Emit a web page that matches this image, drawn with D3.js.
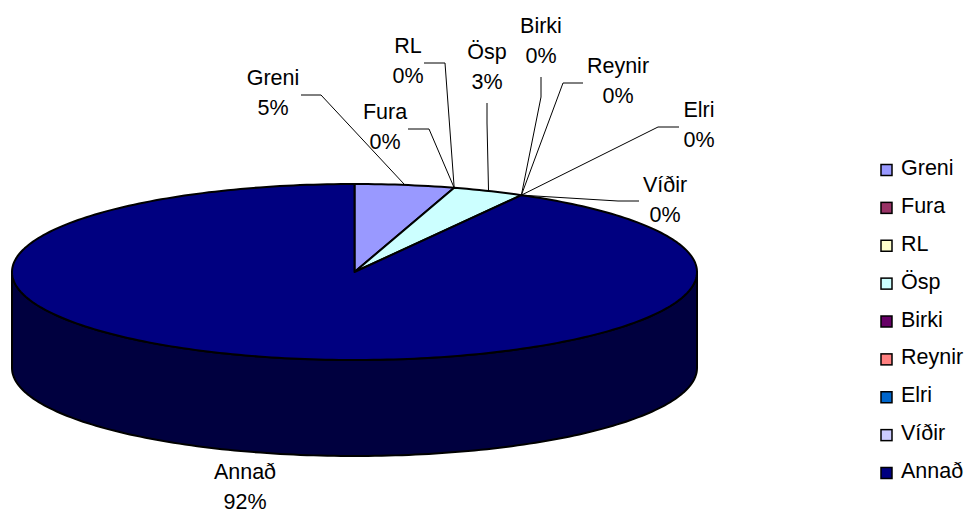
<!DOCTYPE html>
<html>
<head>
    <meta charset="utf-8">
    <script src="https://cdn.jsdelivr.net/npm/d3@7/dist/d3.min.js"></script>
    <style>
        html, body { margin: 0; padding: 0; background: #fff; }
        svg { display: block; }
        text { font-family: "Liberation Sans", Arial, sans-serif; font-size: 21.5px; fill: #000; }
    </style>
</head>
<body>
    <div id="chart"></div>
    <script>
        var categories = ["Greni", "Fura", "RL", "Ösp", "Birki", "Reynir", "Elri", "Víðir", "Annað"];
        var shares = [4.7, 0, 0, 3.4, 0, 0, 0, 0, 91.9];
        var colors = ["#9999ff", "#993366", "#ffffcc", "#ccffff", "#660066", "#ff8080", "#0066cc", "#ccccff", "#000080"];
        var sideColors = ["#4c4c80", "#4c1933", "#808066", "#668080", "#330033", "#804040", "#003366", "#666680", "#00003f"];

        // label centre + first baseline + leader start and bend
        var labelX = [273, 385, 408, 487, 541, 618, 699, 665, 245];
        var labelY = [85, 119, 53, 59, 33, 73, 117, 192, 479];
        var leaderStart = [[301, 95], [408, 129], [424, 63], [487, 103], [541, 77], [583, 83], [679, 127], [639, 201], null];
        var bends = [[321, 95], [429, 129], [445, 63], [487, 123], [541, 97], [563, 83], [658, 127], [618, 201], null];

        var width = 968, height = 514;
        var depth = 96;

        var x = d3.scaleLinear().domain([-1, 1]).range([12, 697]);
        var y = d3.scaleLinear().domain([-1, 1]).range([184, 360]);

        var svg = d3.select("#chart").append("svg").attr("width", width).attr("height", height);

        var data = categories.map(function(c, i) {
            return { name: c, value: shares[i], color: colors[i], side: sideColors[i], i: i };
        });

        var pie = d3.pie().sort(null).value(function(d) { return d.value; });
        var slices = pie(data);

        function px(a) { return x(Math.sin(a)); }
        function py(a) { return y(-Math.cos(a)); }

        var line = d3.line();

        function rimPoints(a0, a1, dy) {
            var steps = Math.max(1, Math.ceil((a1 - a0) / 0.02));
            return d3.range(steps + 1).map(function(k) {
                var a = a0 + (a1 - a0) * k / steps;
                return [px(a), py(a) + dy];
            });
        }

        // side wall, only the front half of the rim shows
        var sides = svg.append("g");
        slices.forEach(function(s) {
            var a0 = Math.max(s.startAngle, Math.PI / 2);
            var a1 = Math.min(s.endAngle, Math.PI * 1.5);
            if (a1 <= a0) return;
            var pts = rimPoints(a0, a1, 0).concat(rimPoints(a0, a1, depth).reverse());
            sides.append("path")
                .attr("d", line(pts) + "Z")
                .attr("fill", s.data.side)
                .attr("stroke", "#000")
                .attr("stroke-width", 2)
                .attr("stroke-linejoin", "round");
        });

        var tops = svg.append("g");
        slices.forEach(function(s) {
            if (s.value === 0) return;
            var pts = [[x(0), y(0)]].concat(rimPoints(s.startAngle, s.endAngle, 0));
            tops.append("path")
                .attr("d", line(pts) + "Z")
                .attr("fill", s.data.color)
                .attr("stroke", "#000")
                .attr("stroke-width", 2)
                .attr("stroke-linejoin", "round");
        });

        // leaders end at the middle of each slice's rim
        var leaders = svg.append("g");
        slices.forEach(function(s, i) {
            if (!bends[i]) return;
            var mid = (s.startAngle + s.endAngle) / 2;
            leaders.append("path")
                .attr("d", line([leaderStart[i], bends[i], [px(mid), py(mid)]]))
                .attr("fill", "none")
                .attr("stroke", "#000")
                .attr("stroke-width", 1);
        });

        var labels = svg.append("g").attr("text-anchor", "middle");
        data.forEach(function(d, i) {
            var t = labels.append("text").attr("y", labelY[i]);
            t.append("tspan").attr("x", labelX[i]).text(d.name);
            t.append("tspan").attr("x", labelX[i]).attr("dy", 30).text(Math.round(d.value) + "%");
        });

        var legendY = d3.scalePoint().domain(categories).range([170, 473]);
        var legend = svg.append("g");
        data.forEach(function(d) {
            var ly = legendY(d.name);
            legend.append("rect")
                .attr("x", 881).attr("y", ly - 5.5)
                .attr("width", 11).attr("height", 11)
                .attr("fill", d.color)
                .attr("stroke", "#000")
                .attr("stroke-width", 1.5);
            legend.append("text")
                .attr("x", 901).attr("y", ly + 5)
                .text(d.name);
        });
    </script>
</body>
</html>
